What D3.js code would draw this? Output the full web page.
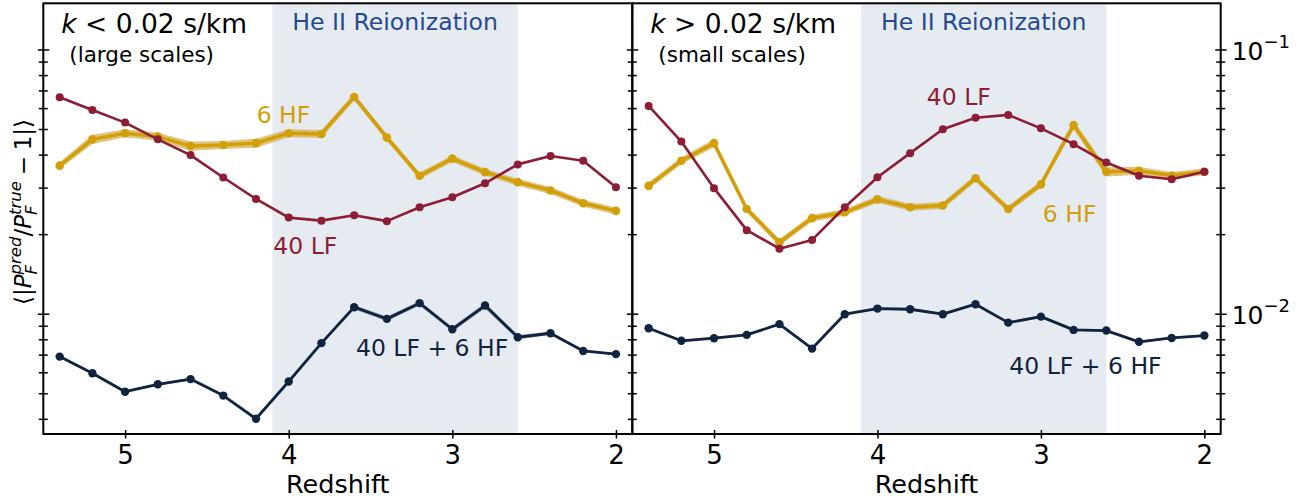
<!DOCTYPE html>
<html>
<meta charset="utf-8">
<title>Emulator error vs redshift</title>
<script src="https://d3js.org/d3.v7.min.js" charset="utf-8"></script>
<style>
	body { margin: 0; background: #fff; }
	text { font-family: "DejaVu Sans", sans-serif; }
	.spine { fill: none; stroke: #000; stroke-width: 2; }
	.tick line { stroke: #000; stroke-width: 1.5; }
</style>
<body>
<script>

	// redshift bins
	var redshift = [5.4, 5.2, 5.0, 4.8, 4.6, 4.4, 4.2, 4.0, 3.8, 3.6, 3.4, 3.2, 3.0, 2.8, 2.6, 2.4, 2.2, 2.0];

	// k < 0.02 s/km (large scales)
	var lfLarge   = [0.0662, 0.0593, 0.0531, 0.0459, 0.0400, 0.0329, 0.0273, 0.0232, 0.0226, 0.0237, 0.0225, 0.0254, 0.0277, 0.0313, 0.0369, 0.0397, 0.0381, 0.0302];
	var hfLarge   = [0.0365, 0.0459, 0.0484, 0.0470, 0.0433, 0.0437, 0.0444, 0.0484, 0.0481, 0.0664, 0.0466, 0.0334, 0.0388, 0.0345, 0.0316, 0.0294, 0.0263, 0.0246];
	var bothLarge = [0.00691, 0.00598, 0.00509, 0.00543, 0.00568, 0.00492, 0.00402, 0.00556, 0.00777, 0.01063, 0.00960, 0.01101, 0.00877, 0.01078, 0.00818, 0.00847, 0.00726, 0.00706];

	// k > 0.02 s/km (small scales)
	var lfSmall   = [0.0614, 0.0450, 0.0300, 0.0208, 0.0177, 0.0191, 0.0254, 0.0330, 0.0407, 0.0501, 0.0554, 0.0568, 0.0505, 0.0440, 0.0375, 0.0334, 0.0324, 0.0346];
	var hfSmall   = [0.0306, 0.0381, 0.0444, 0.0250, 0.0187, 0.0231, 0.0243, 0.0272, 0.0254, 0.0258, 0.0327, 0.0250, 0.0310, 0.0520, 0.0346, 0.0349, 0.0335, 0.0346];
	var bothSmall = [0.00885, 0.00793, 0.00811, 0.00835, 0.00917, 0.00741, 0.01000, 0.01050, 0.01044, 0.01000, 0.01091, 0.00929, 0.00979, 0.00872, 0.00867, 0.00786, 0.00813, 0.00830];

	// relative spread shown as shaded band
	var hfLargeErr   = [0.03, 0.04, 0.035, 0.035, 0.04, 0.035, 0.04, 0.035, 0.035, 0.03, 0.03, 0.03, 0.03, 0.03, 0.03, 0.03, 0.03, 0.03];
	var hfSmallErr   = [0.03, 0.03, 0.035, 0.03, 0.03, 0.03, 0.03, 0.03, 0.03, 0.03, 0.03, 0.03, 0.03, 0.04, 0.04, 0.035, 0.03, 0.03];
	var bothLargeErr = [0.01, 0.01, 0.01, 0.01, 0.01, 0.01, 0.01, 0.01, 0.015, 0.02, 0.02, 0.02, 0.02, 0.025, 0.02, 0.015, 0.01, 0.01];
	var bothSmallErr = [0.01, 0.01, 0.01, 0.01, 0.01, 0.01, 0.01, 0.01, 0.01, 0.01, 0.01, 0.01, 0.01, 0.01, 0.01, 0.01, 0.01, 0.01];

	var heiiRange = [4.1, 2.6];
	var xTicks = [5, 4, 3, 2];

	var colors = {lf: "#8c1d35", hf: "#d29f08", both: "#10233f"};

	var width = 1313, height = 501;
	var top0 = 3.3, bottom0 = 434;
	var panelEdges = [43.3, 632.3, 1220.7];

	var svg = d3.select("body").append("svg")
		.attr("width", width)
		.attr("height", height);

	var y = d3.scaleLog().domain([0.00352, 0.1502]).range([bottom0, top0]);

	var panels = [
		{
			title: "< 0.02 s/km", sub: "(large scales)",
			lf: lfLarge, hf: hfLarge, both: bothLarge, hfErr: hfLargeErr, bothErr: bothLargeErr,
			labels: [
				{text: "6 HF", key: "hf", z: 4.196, v: 0.0528},
				{text: "40 LF", key: "lf", z: 4.094, v: 0.0169},
				{text: "40 LF + 6 HF", key: "both", z: 3.589, v: 0.00695}
			]
		},
		{
			title: "> 0.02 s/km", sub: "(small scales)",
			lf: lfSmall, hf: hfSmall, both: bothSmall, hfErr: hfSmallErr, bothErr: bothSmallErr,
			labels: [
				{text: "40 LF", key: "lf", z: 3.698, v: 0.0619},
				{text: "6 HF", key: "hf", z: 2.988, v: 0.0224},
				{text: "40 LF + 6 HF", key: "both", z: 3.193, v: 0.00594}
			]
		}
	];

	panels.forEach(function(p, pi) {
		var x = d3.scaleLinear().domain([5.5, 1.9]).range([panelEdges[pi], panelEdges[pi + 1]]);
		var g = svg.append("g");

		/* He II band */
		g.append("rect")
			.attr("x", x(heiiRange[0]))
			.attr("y", top0)
			.attr("width", x(heiiRange[1]) - x(heiiRange[0]))
			.attr("height", bottom0 - top0)
			.attr("fill", "#e6ebf2");

		g.append("text")
			.attr("x", (x(heiiRange[0]) + x(heiiRange[1])) / 2)
			.attr("y", 29.5)
			.attr("text-anchor", "middle")
			.attr("font-size", 23.6)
			.attr("fill", "#274a8e")
			.text("He II Reionization");

		/* series */
		var series = [
			{key: "hf", vals: p.hf, err: p.hfErr, lw: 3.4, r: 4.3},
			{key: "lf", vals: p.lf, err: null, lw: 2.6, r: 4},
			{key: "both", vals: p.both, err: p.bothErr, lw: 2.8, r: 4.2}
		];

		series.forEach(function(s) {
			var pts = redshift.map(function(z, i) { return {z: z, v: s.vals[i], e: s.err ? s.err[i] : 0}; });
			if (s.err) {
				var area = d3.area()
					.x(function(d) { return x(d.z); })
					.y0(function(d) { return y(d.v * (1 - d.e)); })
					.y1(function(d) { return y(d.v * (1 + d.e)); });
				g.append("path")
					.datum(pts)
					.attr("d", area)
					.attr("fill", s.key == "hf" ? "#d4b050" : "#6a7486")
					.attr("fill-opacity", s.key == "hf" ? 0.75 : 0.5);
			}
			var line = d3.line()
				.x(function(d) { return x(d.z); })
				.y(function(d) { return y(d.v); });
			g.append("path")
				.datum(pts)
				.attr("d", line)
				.attr("fill", "none")
				.attr("stroke", colors[s.key])
				.attr("stroke-width", s.lw)
				.attr("stroke-linejoin", "round");
			g.selectAll(".pt-" + s.key)
				.data(pts)
				.enter().append("circle")
				.attr("class", "pt-" + s.key)
				.attr("cx", function(d) { return x(d.z); })
				.attr("cy", function(d) { return y(d.v); })
				.attr("r", s.r)
				.attr("fill", colors[s.key]);
		});

		/* series labels */
		p.labels.forEach(function(l) {
			g.append("text")
				.attr("x", x(l.z))
				.attr("y", y(l.v))
				.attr("font-size", 23.5)
				.attr("fill", colors[l.key])
				.text(l.text);
		});

		/* panel titles */
		var t = g.append("text")
			.attr("x", panelEdges[pi] + 18)
			.attr("y", 33)
			.attr("font-size", 26.5)
			.attr("fill", "#000");
		t.append("tspan").attr("font-style", "italic").text("k");
		t.append("tspan").text(" " + p.title);

		g.append("text")
			.attr("x", panelEdges[pi] + 26)
			.attr("y", 62)
			.attr("font-size", 21.5)
			.text(p.sub);

		/* x axis */
		var xa = g.append("g")
			.attr("transform", "translate(0," + bottom0 + ")")
			.call(d3.axisBottom(x).tickValues(xTicks).tickFormat(d3.format("d")).tickSize(8));
		xa.select(".domain").remove();
		xa.selectAll(".tick line").attr("y1", -4).attr("y2", 4.5);
		xa.selectAll(".tick text").attr("y", 12).attr("font-size", 26).attr("font-family", "DejaVu Sans").attr("fill", "#000");

		g.append("text")
			.attr("x", (panelEdges[pi] + panelEdges[pi + 1]) / 2)
			.attr("y", 493)
			.attr("text-anchor", "middle")
			.attr("font-size", 25.5)
			.text("Redshift");

		g.append("rect")
			.attr("class", "spine")
			.attr("x", panelEdges[pi])
			.attr("y", top0)
			.attr("width", panelEdges[pi + 1] - panelEdges[pi])
			.attr("height", bottom0 - top0);
	});

	/* y ticks (log scale, major + minor) */
	var yTicks = y.ticks().filter(function(d) { return d >= y.domain()[0] && d <= y.domain()[1]; });
	function isMajor(d) { return Math.abs(Math.log10(d) - Math.round(Math.log10(d))) < 1e-6; }

	[panelEdges[0], panelEdges[1], panelEdges[2]].forEach(function(px) {
		svg.append("g").selectAll("line")
			.data(yTicks)
			.enter().append("line")
			.attr("x1", function(d) { return px - (isMajor(d) ? 5.5 : 4.5); })
			.attr("x2", function(d) { return px + (isMajor(d) ? 6 : 4.5); })
			.attr("y1", function(d) { return y(d); })
			.attr("y2", function(d) { return y(d); })
			.attr("stroke", "#000")
			.attr("stroke-width", 1.5);
	});

	/* right-hand decade labels */
	var majors = yTicks.filter(isMajor);
	majors.forEach(function(d) {
		var t = svg.append("text")
			.attr("x", panelEdges[2] + 11)
			.attr("y", y(d) + 10)
			.attr("font-size", 25)
			.attr("fill", "#000");
		t.append("tspan").text("10");
		t.append("tspan").attr("dy", -12).attr("font-size", 18).text("\u2212" + Math.round(-Math.log10(d)));
	});

	/* y axis label */
	var yl = svg.append("text")
		.attr("transform", "translate(31,212)rotate(-90)")
		.attr("text-anchor", "middle")
		.attr("font-size", 23);
	yl.append("tspan").text("\u27e8|");
	yl.append("tspan").attr("font-style", "italic").text("P");
	var f1 = yl.append("tspan").attr("font-style", "italic").attr("font-size", 16.5).attr("dy", 6).text("F");
	var s1 = yl.append("tspan").attr("font-style", "italic").attr("font-size", 16.5).attr("dy", -16).text("pred");
	yl.append("tspan").attr("dy", 10).text("/");
	yl.append("tspan").attr("font-style", "italic").text("P");
	var f2 = yl.append("tspan").attr("font-style", "italic").attr("font-size", 16.5).attr("dy", 6).text("F");
	var s2 = yl.append("tspan").attr("font-style", "italic").attr("font-size", 16.5).attr("dy", -16).text("true");
	yl.append("tspan").attr("dy", 10).text("\u2005\u2212\u20051|\u27e9");
	s1.attr("dx", -f1.node().getComputedTextLength());
	s2.attr("dx", -f2.node().getComputedTextLength());

</script>
</body>
</html>
